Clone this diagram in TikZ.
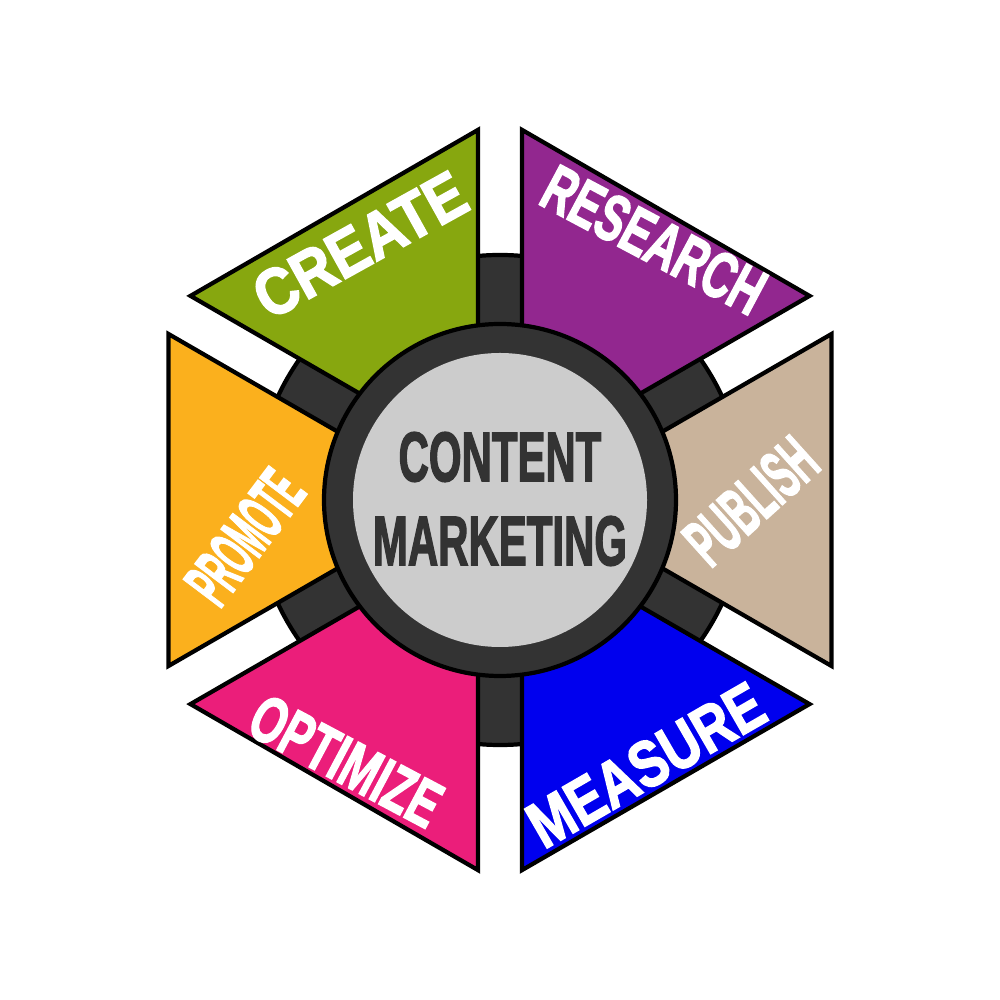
\documentclass[tikz,border=0pt]{standalone}
\usepackage{fontspec}
\newfontfamily\lblfont[FakeBold=2.5]{Liberation Sans Bold}
\definecolor{creategreen}{HTML}{87A70F}
\definecolor{researchpurple}{HTML}{92278F}
\definecolor{publishtan}{HTML}{C9B39B}
\definecolor{measureblue}{HTML}{0000EE}
\definecolor{optimizepink}{HTML}{EB1E7A}
\definecolor{promoteorange}{HTML}{FBB01D}
\definecolor{ringgrey}{HTML}{333333}
\definecolor{hubgrey}{HTML}{CCCCCC}
\tikzset{
  segment/.style={draw=black, line width=1.2pt, line join=miter},
  seglabel/.style={text=white, inner sep=0pt, font=\lblfont\fontsize{18.6}{21}\selectfont},
  sidelabel/.style={seglabel, font=\lblfont\fontsize{19.6}{22}\selectfont},
  hubtext/.style={text=ringgrey, inner sep=0pt, xscale=0.6, font=\lblfont\fontsize{19.9}{22}\selectfont}
}
\begin{document}
\begin{tikzpicture}
            \useasboundingbox[fill=white] (-5,-5) rectangle (5,5);

            \filldraw[fill=ringgrey, draw=black, line width=1.2pt] (0,0) circle (2.45);

            \filldraw[segment, fill=creategreen] (120:0.44) -- ++(150:3.32) -- ++(30:3.32) -- cycle;
            \filldraw[segment, fill=researchpurple] (60:0.44) -- ++(90:3.32) -- ++(-30:3.32) -- cycle;
            \filldraw[segment, fill=publishtan] (0:0.44) -- ++(30:3.32) -- ++(-90:3.32) -- cycle;
            \filldraw[segment, fill=measureblue] (-60:0.44) -- ++(-30:3.32) -- ++(-150:3.32) -- cycle;
            \filldraw[segment, fill=optimizepink] (-120:0.44) -- ++(-90:3.32) -- ++(150:3.32) -- cycle;
            \filldraw[segment, fill=promoteorange] (180:0.44) -- ++(210:3.32) -- ++(90:3.32) -- cycle;

            \filldraw[fill=ringgrey, draw=black, line width=1.2pt] (0,0) circle (1.76);
            \fill[hubgrey] (0,0) circle (1.47);

            \node[seglabel, rotate=29, xscale=0.88] (create) at (-1.40,2.55) {CREATE};
            \node[seglabel, rotate=-28, xscale=0.66] (research) at (1.54,2.60) {RESEARCH};
            \node[sidelabel, rotate=42, xscale=0.50] (publish) at (2.51,-0.01) {PUBLISH};
            \node[seglabel, rotate=30, xscale=0.80] (measure) at (1.46,-2.65) {MEASURE};
            \node[seglabel, rotate=-28, xscale=0.67] (optimize) at (-1.54,-2.61) {OPTIMIZE};
            \node[sidelabel, rotate=53, xscale=0.42] (promote) at (-2.55,-0.37) {PROMOTE};

            \node[hubtext] (content) at (0,0.43) {CONTENT};
            \node[hubtext] (marketing) at (0,-0.41) {MARKETING};
        \end{tikzpicture}
\end{document}
